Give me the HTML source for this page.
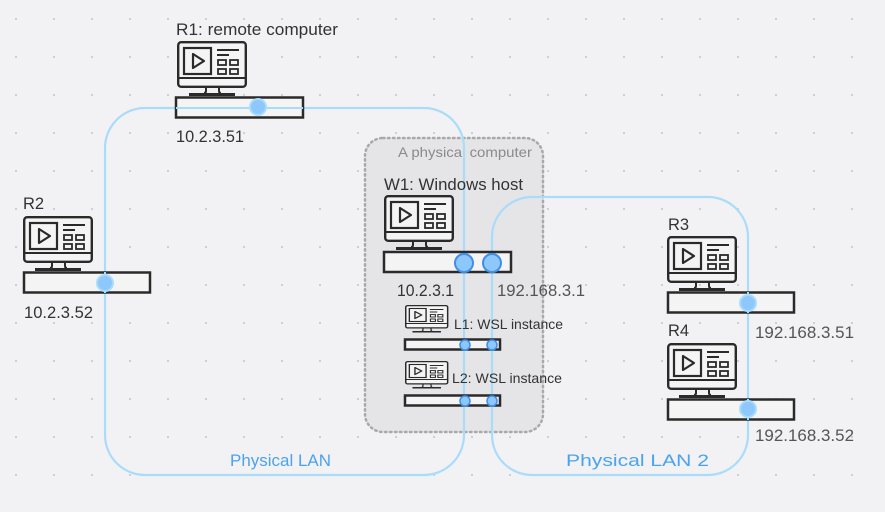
<!DOCTYPE html>
<html><head><meta charset="utf-8"><style>
html,body{margin:0;padding:0;background:#f2f2f4;}
svg{display:block;font-family:"Liberation Sans","DejaVu Sans",sans-serif;}
</style></head><body>
<svg width="885" height="512" viewBox="0 0 885 512" xmlns="http://www.w3.org/2000/svg">
<defs>
<pattern id="dots" x="0" y="0" width="38" height="38" patternUnits="userSpaceOnUse">
<rect x="15" y="18" width="2" height="2" fill="#cfcfd3"/>
</pattern>
<g id="mon">
<rect x="1.2" y="1.2" width="67.6" height="44.6" rx="3" fill="#f4f4f4" stroke="#2a2a2a" stroke-width="2.4"/>
<line x1="1" y1="37" x2="69" y2="37" stroke="#2a2a2a" stroke-width="2"/>
<rect x="7" y="7" width="27" height="26" fill="none" stroke="#2a2a2a" stroke-width="2.2"/>
<path d="M16 13 L27 20 L16 27 Z" fill="none" stroke="#2a2a2a" stroke-width="2.2" stroke-linejoin="round"/>
<line x1="40" y1="9" x2="62" y2="9" stroke="#2a2a2a" stroke-width="2"/>
<line x1="40" y1="14" x2="52" y2="14" stroke="#2a2a2a" stroke-width="2"/>
<rect x="41" y="19" width="8" height="5" fill="none" stroke="#2a2a2a" stroke-width="1.8"/>
<rect x="53" y="19" width="8" height="5" fill="none" stroke="#2a2a2a" stroke-width="1.8"/>
<rect x="41" y="28" width="8" height="5" fill="none" stroke="#2a2a2a" stroke-width="1.8"/>
<rect x="53" y="28" width="8" height="5" fill="none" stroke="#2a2a2a" stroke-width="1.8"/>
<path d="M29 46 L29 50 Q29 52 27 52 M42 46 L42 50 Q42 52 44 52" fill="none" stroke="#2a2a2a" stroke-width="2"/>
<rect x="12" y="52" width="46" height="3" fill="#2a2a2a"/>
</g>
</defs>
<rect width="885" height="512" fill="#f2f2f4"/>
<rect width="885" height="512" fill="url(#dots)"/>

<rect x="365" y="138" width="178" height="294" rx="18" fill="#e5e5e7" stroke="#a9a9ab" stroke-width="2.5" stroke-dasharray="1.5 3.5" stroke-linecap="round"/>
<text x="398" y="157" font-size="14" fill="#8a8a8c" textLength="134" lengthAdjust="spacingAndGlyphs">A physical computer</text>

<rect x="105" y="108" width="359" height="367" rx="40" fill="none" stroke="#a9dcfb" stroke-width="2.2"/>
<rect x="492" y="197" width="256" height="278" rx="40" fill="none" stroke="#a9dcfb" stroke-width="2.2"/>
<rect x="215" y="448" width="130" height="24" fill="#f2f2f4"/>
<rect x="555" y="448" width="160" height="24" fill="#f2f2f4"/>
<text x="230" y="466" font-size="16.5" fill="#4aa3f0" textLength="101" lengthAdjust="spacingAndGlyphs">Physical LAN</text>
<text x="566" y="466" font-size="16.5" fill="#4aa3f0" textLength="143" lengthAdjust="spacingAndGlyphs">Physical LAN 2</text>

<text x="176" y="35" font-size="16.5" fill="#333" textLength="162" lengthAdjust="spacingAndGlyphs">R1: remote computer</text>
<use href="#mon" x="177" y="41"/>
<rect x="176" y="97.5" width="127" height="20" fill="#f4f4f4" stroke="#2a2a2a" stroke-width="2.5"/>
<line x1="176" y1="108" x2="303" y2="108" stroke="#a9dcfb" stroke-width="2"/>
<circle cx="258" cy="107" r="8" fill="#8ec7fc" stroke="#a9dcfb" stroke-width="2"/>
<text x="176" y="142" font-size="16.5" fill="#333" textLength="68" lengthAdjust="spacingAndGlyphs">10.2.3.51</text>

<text x="23" y="209" font-size="16.5" fill="#333">R2</text>
<use href="#mon" x="23" y="216"/>
<rect x="24" y="272.5" width="126" height="20" fill="#f4f4f4" stroke="#2a2a2a" stroke-width="2.5"/>
<line x1="105" y1="272" x2="105" y2="293" stroke="#a9dcfb" stroke-width="2"/>
<circle cx="105" cy="283" r="8" fill="#8ec7fc" stroke="#a9dcfb" stroke-width="2"/>
<text x="24" y="318" font-size="16.5" fill="#333" textLength="69" lengthAdjust="spacingAndGlyphs">10.2.3.52</text>

<text x="384" y="190" font-size="16.5" fill="#333" textLength="139" lengthAdjust="spacingAndGlyphs">W1: Windows host</text>
<use href="#mon" x="384" y="195"/>
<rect x="384" y="252" width="127" height="20" fill="#f4f4f4" stroke="#2a2a2a" stroke-width="2.5"/>
<circle cx="464" cy="263" r="9" fill="#8ec7fc" stroke="#3d8fe8" stroke-width="2"/>
<circle cx="492" cy="263" r="9" fill="#8ec7fc" stroke="#3d8fe8" stroke-width="2"/>
<text x="397" y="296" font-size="16.5" fill="#333" textLength="57" lengthAdjust="spacingAndGlyphs">10.2.3.1</text>
<text x="497" y="296" font-size="16.5" fill="#555" textLength="88" lengthAdjust="spacingAndGlyphs">192.168.3.1</text>

<use href="#mon" transform="translate(405,305) scale(0.62,0.5)"/>
<rect x="405" y="339.5" width="95" height="10" fill="#f4f4f4" stroke="#2a2a2a" stroke-width="2.5"/>
<circle cx="465" cy="345" r="5" fill="#8ec7fc" stroke="#3d8fe8" stroke-width="1.5"/>
<circle cx="492" cy="345" r="5" fill="#8ec7fc" stroke="#3d8fe8" stroke-width="1.5"/>
<text x="454" y="329" font-size="14" fill="#333" textLength="109" lengthAdjust="spacingAndGlyphs">L1: WSL instance</text>

<use href="#mon" transform="translate(405,361) scale(0.62,0.5)"/>
<rect x="405" y="395.5" width="95" height="10" fill="#f4f4f4" stroke="#2a2a2a" stroke-width="2.5"/>
<circle cx="465" cy="401" r="5" fill="#8ec7fc" stroke="#3d8fe8" stroke-width="1.5"/>
<circle cx="492" cy="401" r="5" fill="#8ec7fc" stroke="#3d8fe8" stroke-width="1.5"/>
<text x="452" y="383" font-size="14" fill="#333" textLength="110" lengthAdjust="spacingAndGlyphs">L2: WSL instance</text>

<text x="668" y="230" font-size="16.5" fill="#333">R3</text>
<use href="#mon" x="667" y="236"/>
<rect x="668" y="292.5" width="126" height="20" fill="#f4f4f4" stroke="#2a2a2a" stroke-width="2.5"/>
<line x1="748" y1="292" x2="748" y2="313" stroke="#a9dcfb" stroke-width="2"/>
<circle cx="748" cy="303" r="8" fill="#8ec7fc" stroke="#a9dcfb" stroke-width="2"/>
<text x="755" y="338" font-size="16.5" fill="#555" textLength="99" lengthAdjust="spacingAndGlyphs">192.168.3.51</text>

<text x="668" y="336" font-size="16.5" fill="#333">R4</text>
<use href="#mon" x="667" y="343"/>
<rect x="668" y="399.5" width="126" height="20" fill="#f4f4f4" stroke="#2a2a2a" stroke-width="2.5"/>
<line x1="748" y1="399" x2="748" y2="420" stroke="#a9dcfb" stroke-width="2"/>
<circle cx="748" cy="409" r="8" fill="#8ec7fc" stroke="#a9dcfb" stroke-width="2"/>
<text x="755" y="441" font-size="16.5" fill="#555" textLength="99" lengthAdjust="spacingAndGlyphs">192.168.3.52</text>
</svg>
</body></html>
